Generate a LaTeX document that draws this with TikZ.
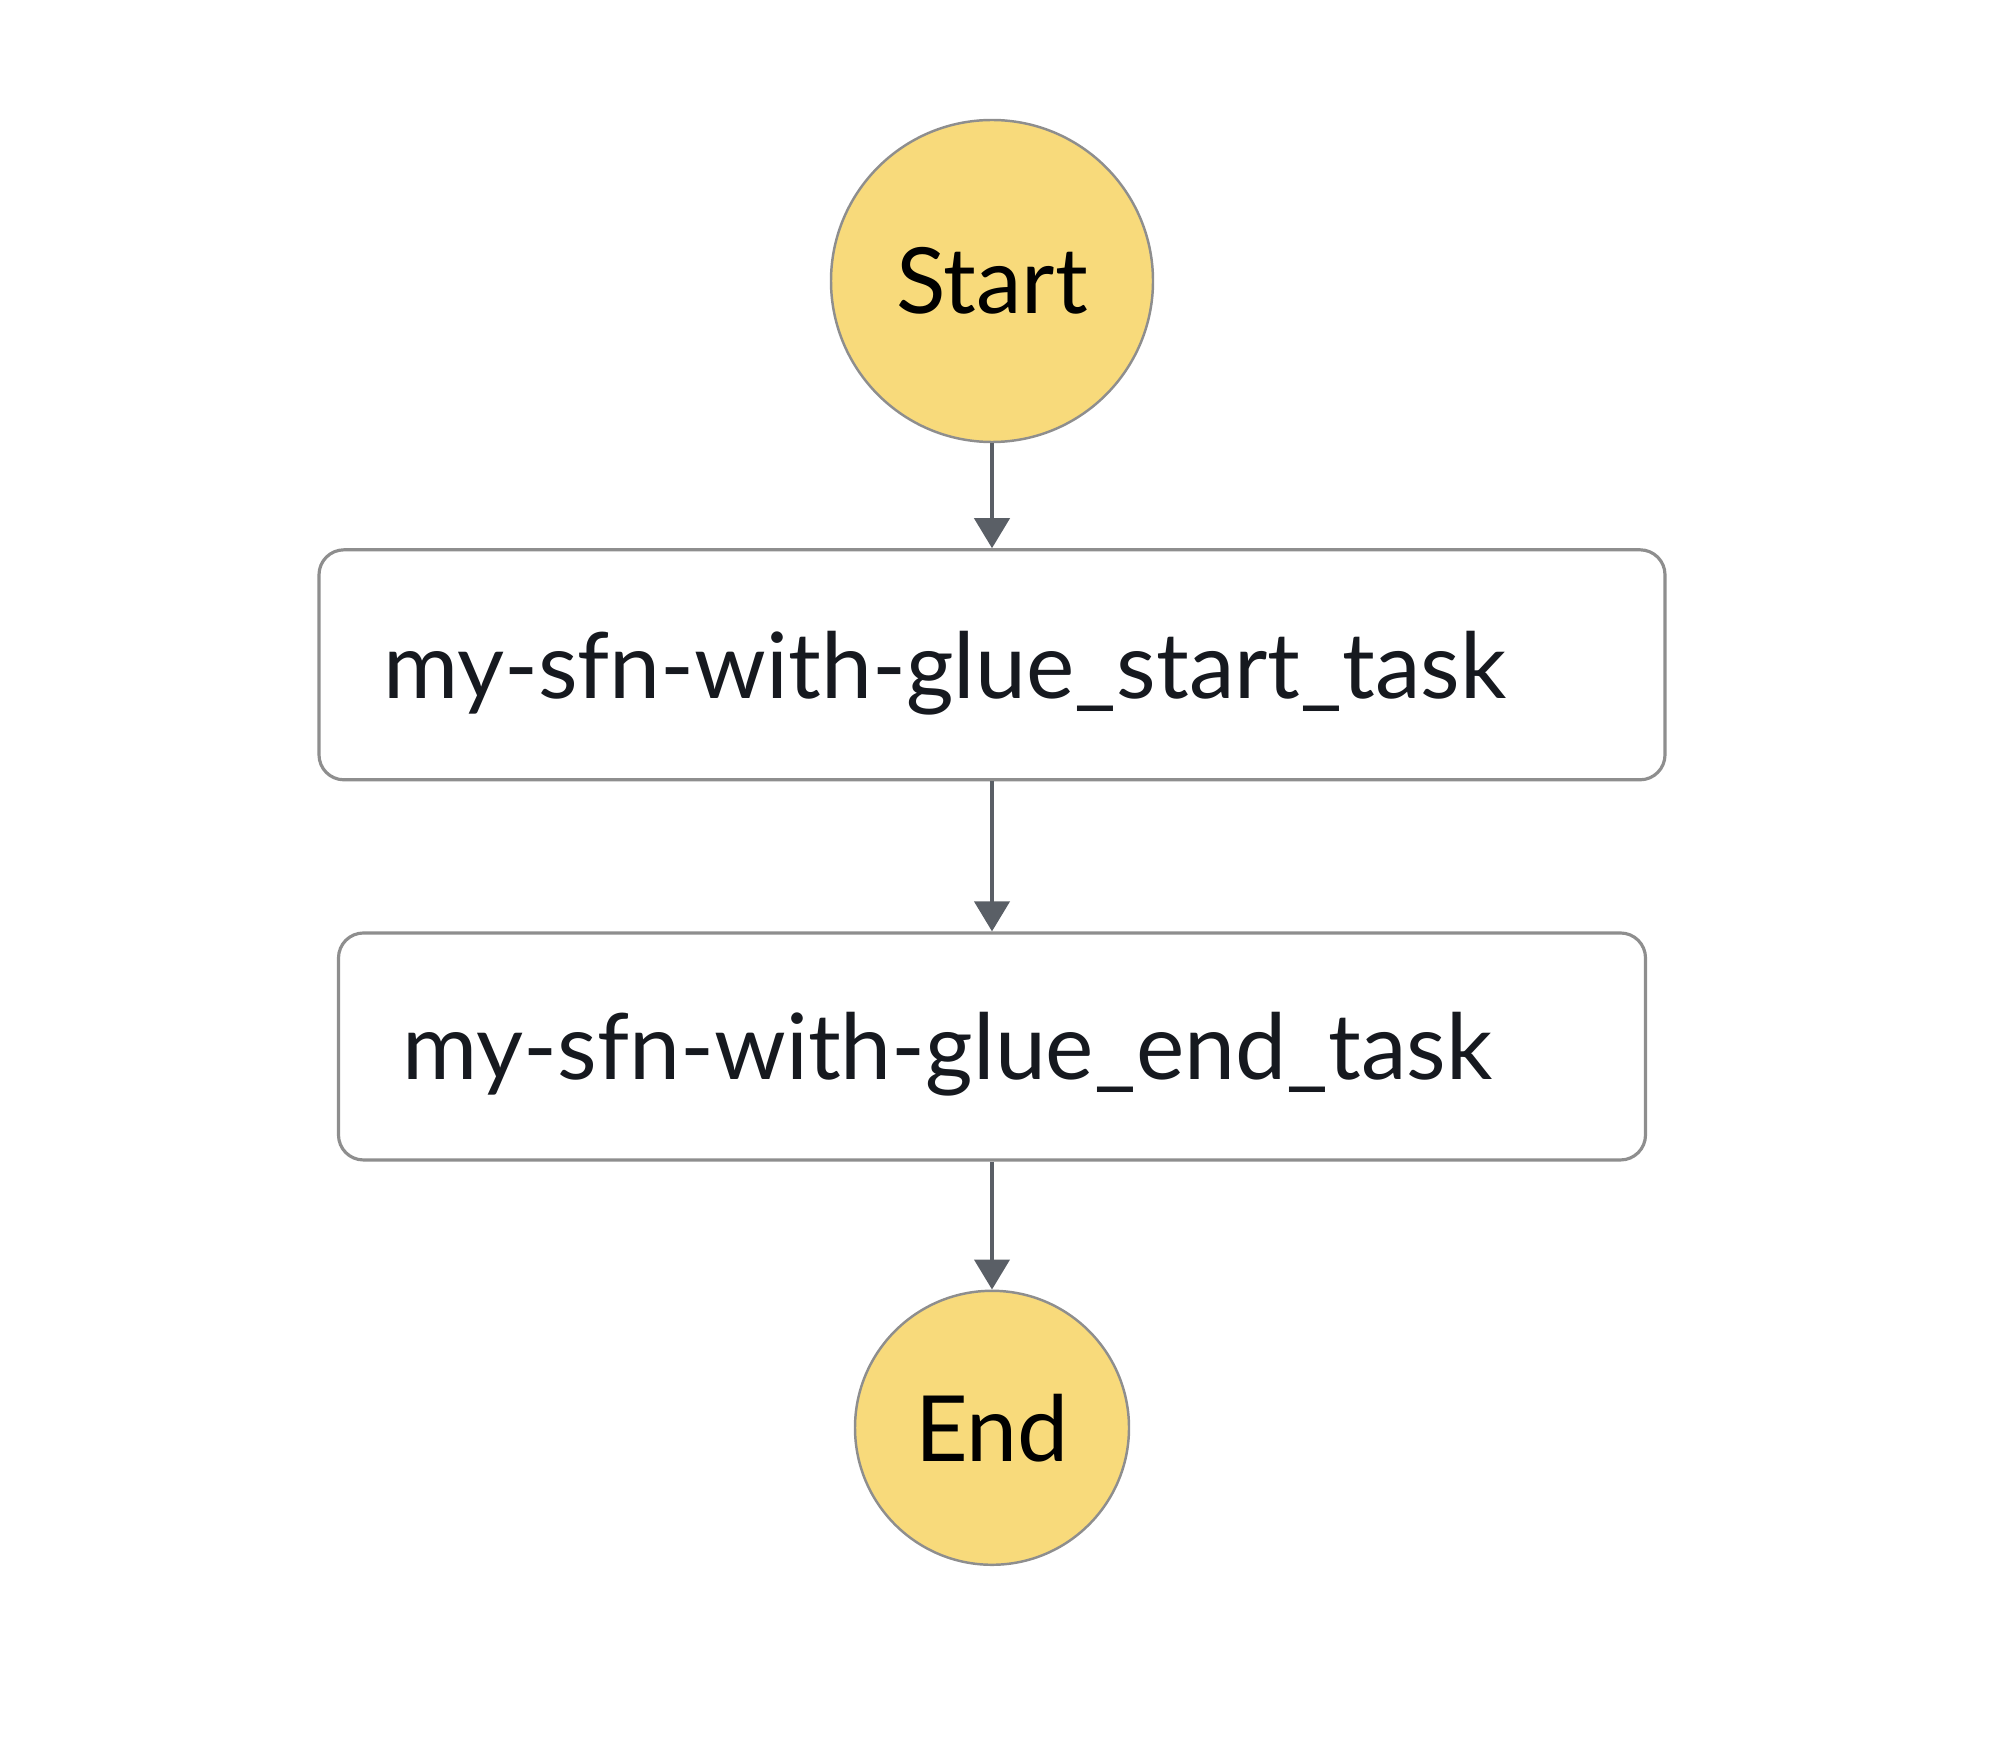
\documentclass[tikz,border=0pt]{standalone}
\usepackage{fontspec}
\setmainfont{Lato}
\usepackage{xcolor}
\usetikzlibrary{arrows.meta, positioning}

\definecolor{stateyellow}{HTML}{F8DA7B}
\definecolor{edgegrey}{HTML}{5A5F66}
\definecolor{rimgrey}{HTML}{8E8E8E}
\definecolor{labelgrey}{HTML}{16191F}

\begin{document}
\begin{tikzpicture}[
    terminal/.style={circle, draw=rimgrey, line width=0.7pt, fill=stateyellow, inner sep=0pt, font=\fontsize{26}{30}\selectfont, text=black},
    task/.style={rectangle, draw=rimgrey, line width=0.9pt, rounded corners=0.25cm, minimum height=2.3cm, inner xsep=0.64cm, text height=0.86cm, text depth=0.19cm, align=left, font=\fontsize{26}{32}\selectfont, text=labelgrey},
    arrow/.style={-{Triangle[length=0.3cm, width=0.35cm]}, draw=edgegrey, line width=1.2pt},
]
    \useasboundingbox (0,0) rectangle (20,-17.47);

    \node[terminal, minimum size=3.22cm] at (9.92,-2.81) (start) {Start};
    \node[task, below=1.05cm of start, text width=12.18cm] (starttask) {my-sfn-with-glue\_start\_task};
    \node[task, below=1.5cm of starttask, text width=11.79cm, minimum height=2.27cm] (endtask) {my-sfn-with-glue\_end\_task};
    \node[terminal, minimum size=2.74cm, below=1.28cm of endtask] (end) {End};

    \draw[arrow] (start) -- (starttask);
    \draw[arrow] (starttask) -- (endtask);
    \draw[arrow] (endtask) -- (end);
\end{tikzpicture}
\end{document}
